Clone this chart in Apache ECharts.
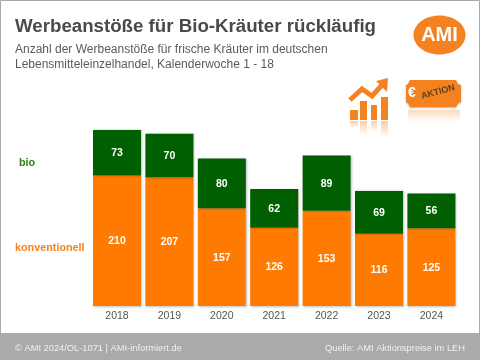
<!DOCTYPE html>
<html><head><meta charset="utf-8">
<style>html,body{margin:0;padding:0;background:#fff}#c{width:480px;height:360px}</style>
<script src="https://cdn.jsdelivr.net/npm/echarts@6/dist/echarts.min.js"></script>
</head><body><div id="c"></div>
<script>
const years=['2018','2019','2020','2021','2022','2023','2024'];
const konventionell=[210,207,157,126,153,116,125];
const bio=[73,70,80,62,89,69,56];
const F='"Liberation Sans",Arial,sans-serif';
const ORANGE='#ff7a00', GREEN='#005f00', ICON='#f58220';
const fade=(a)=>new echarts.graphic.LinearGradient(0,0,0,1,[{offset:0,color:'rgba(245,130,32,'+a+')'},{offset:1,color:'rgba(245,130,32,0)'}]);
const txt=(x,y,text,size,color,weight,align)=>({type:'text',x,y,style:{text,font:(weight||'normal')+' '+size+'px '+F,fill:color,textAlign:align||'left',textVerticalAlign:'middle'}});
const rect=(x,y,w,h,fill)=>({type:'rect',shape:{x,y,width:w,height:h},style:{fill}});
const seriesCommon={type:'bar',stack:'t',barWidth:48,
  label:{show:true,position:'inside',color:'#fff',fontFamily:F,fontWeight:'bold',fontSize:10.5,offset:[0,0.5]}};
const shadow={shadowColor:'rgba(0,0,0,0.25)',shadowBlur:2,shadowOffsetX:1,shadowOffsetY:0.5};
const ticket=[[410,80],[456,80],[458,84],[461,85],[461,102],[458,103],[456,107],[410,107],[408,103],[406,102],[406,85],[408,84]];
const chart=echarts.init(document.getElementById('c'),null,{renderer:'canvas'});
chart.setOption({
  animation:false,backgroundColor:'#fff',
  grid:{left:90.8,top:119.4,width:366.8,height:186.6},
  xAxis:{type:'category',data:years,axisLine:{show:false},axisTick:{show:false},
    axisLabel:{color:'#555',fontFamily:F,fontSize:10.5,margin:5}},
  yAxis:{type:'value',min:0,max:300,show:false,splitLine:{show:false}},
  series:[
    {...seriesCommon,name:'konventionell',data:konventionell,itemStyle:{color:ORANGE,...shadow}},
    {...seriesCommon,name:'bio',data:bio,itemStyle:{color:GREEN,...shadow}}
  ],
  graphic:[
    {type:'rect',silent:true,shape:{x:0.5,y:0.5,width:479,height:359},style:{fill:'none',stroke:'#a8a8a8',lineWidth:1}},
    rect(0,333,480,27,'#aaaaaa'),
    txt(15,27,'Werbeanstöße für Bio-Kräuter rückläufig',18.7,'#4a4a4a','bold'),
    txt(15,49.5,'Anzahl der Werbeanstöße für frische Kräuter im deutschen',12,'#5a5a5a'),
    txt(15,65,'Lebensmitteleinzelhandel, Kalenderwoche 1 - 18',12,'#5a5a5a'),
    {type:'ellipse',shape:{cx:439.5,cy:35,rx:26,ry:19.5},style:{fill:ICON}},
    txt(439.5,35,'AMI',20,'#fff','bold','center'),
    txt(27,163,'bio',10.8,'#2e7d1e','bold','center'),
    txt(15,248,'konventionell',10.8,'#f58220','bold'),
    txt(15,348,'© AMI 2024/OL-1071 | AMI-informiert.de',9.3,'#f0f0f0'),
    txt(465,348,'Quelle: AMI Aktionspreise im LEH',9.3,'#f0f0f0','normal','right'),
    // rising-chart icon
    rect(350,110,8,10,ICON),rect(360,101,7,19,ICON),rect(371,105,6,15,ICON),rect(381,97,7,23,ICON),
    {type:'polyline',shape:{points:[[350,100],[362,89],[372,96],[383,84]]},style:{stroke:ICON,fill:'none',lineWidth:5}},
    {type:'polygon',shape:{points:[[376,81],[388,78],[387,92]]},style:{fill:ICON}},
    rect(350,121,8,7,fade(0.4)),rect(360,121,7,14,fade(0.4)),rect(371,121,6,11,fade(0.4)),rect(381,121,7,17,fade(0.4)),
    // price-ticket icon
    {type:'polygon',shape:{points:ticket},style:{fill:ICON,shadowColor:'rgba(0,0,0,0.3)',shadowBlur:2,shadowOffsetY:1}},
    rect(408,110,52,12,fade(0.3)),
    txt(412,93,'€',14,'#fff','bold','center'),
    {type:'text',x:438,y:92,rotation:15*Math.PI/180,style:{text:'AKTION',font:'bold 9px '+F,fill:'#5a4020',textAlign:'center',textVerticalAlign:'middle'}}
  ]
});
</script></body></html>
